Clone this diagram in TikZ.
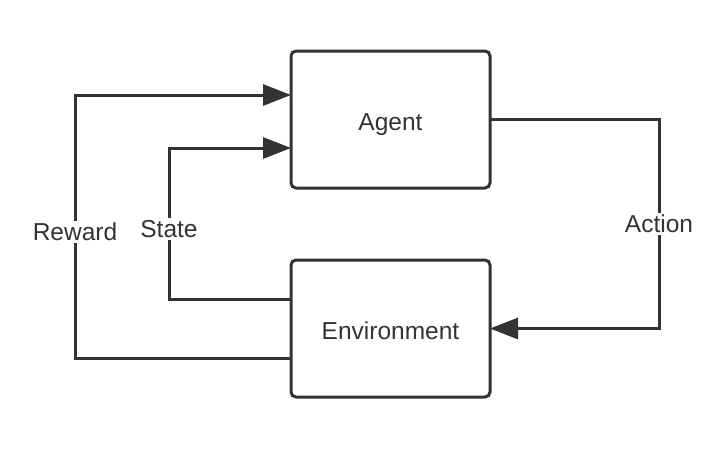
\documentclass[tikz,border=0pt]{standalone}
\usepackage{fontspec}
\setmainfont{Liberation Sans}
\usepackage{xcolor}
\usetikzlibrary{positioning, arrows.meta}

\definecolor{ink}{HTML}{333333}

\begin{document}
\begin{tikzpicture}[
        x=1pt, y=-1pt,
        box/.style={
            draw=ink,
            line width=3pt,
            rounded corners=5pt,
            minimum width=199pt,
            minimum height=137pt,
            inner sep=0pt,
            outer sep=0pt,
            text=ink,
            text height=21pt,
            text depth=0pt,
            font=\fontsize{24.5}{28}\selectfont
        },
        lbl/.style={
            fill=white,
            text=ink,
            inner sep=2pt,
            font=\fontsize{24.5}{28}\selectfont
        },
        arrow/.style={-{Triangle[length=28pt,width=21pt]}, line width=3pt, draw=ink}
    ]

        \useasboundingbox (0,0) rectangle (727,448);

        \node[box] (agent) at (390.5,119.5) {Agent};
        \node[box, below=72pt of agent] (env) {Environment};

        % bends of the loops
        \coordinate (rw) at (75,232);
        \coordinate (st) at (169,229);
        \coordinate (ac) at (659,224);

        \draw[arrow] (agent.east) -| (ac) |- (env.east);
        \draw[arrow] ([yshift=-30pt]env.west) -| (rw) |- ([yshift=24.5pt]agent.west);
        \draw[arrow] ([yshift=29.5pt]env.west) -| (st) |- ([yshift=-28.5pt]agent.west);

        \node[lbl] (reward) at (rw) {Reward};
        \node[lbl] (state) at (st) {State};
        \node[lbl] (action) at (ac) {Action};

    \end{tikzpicture}
\end{document}
